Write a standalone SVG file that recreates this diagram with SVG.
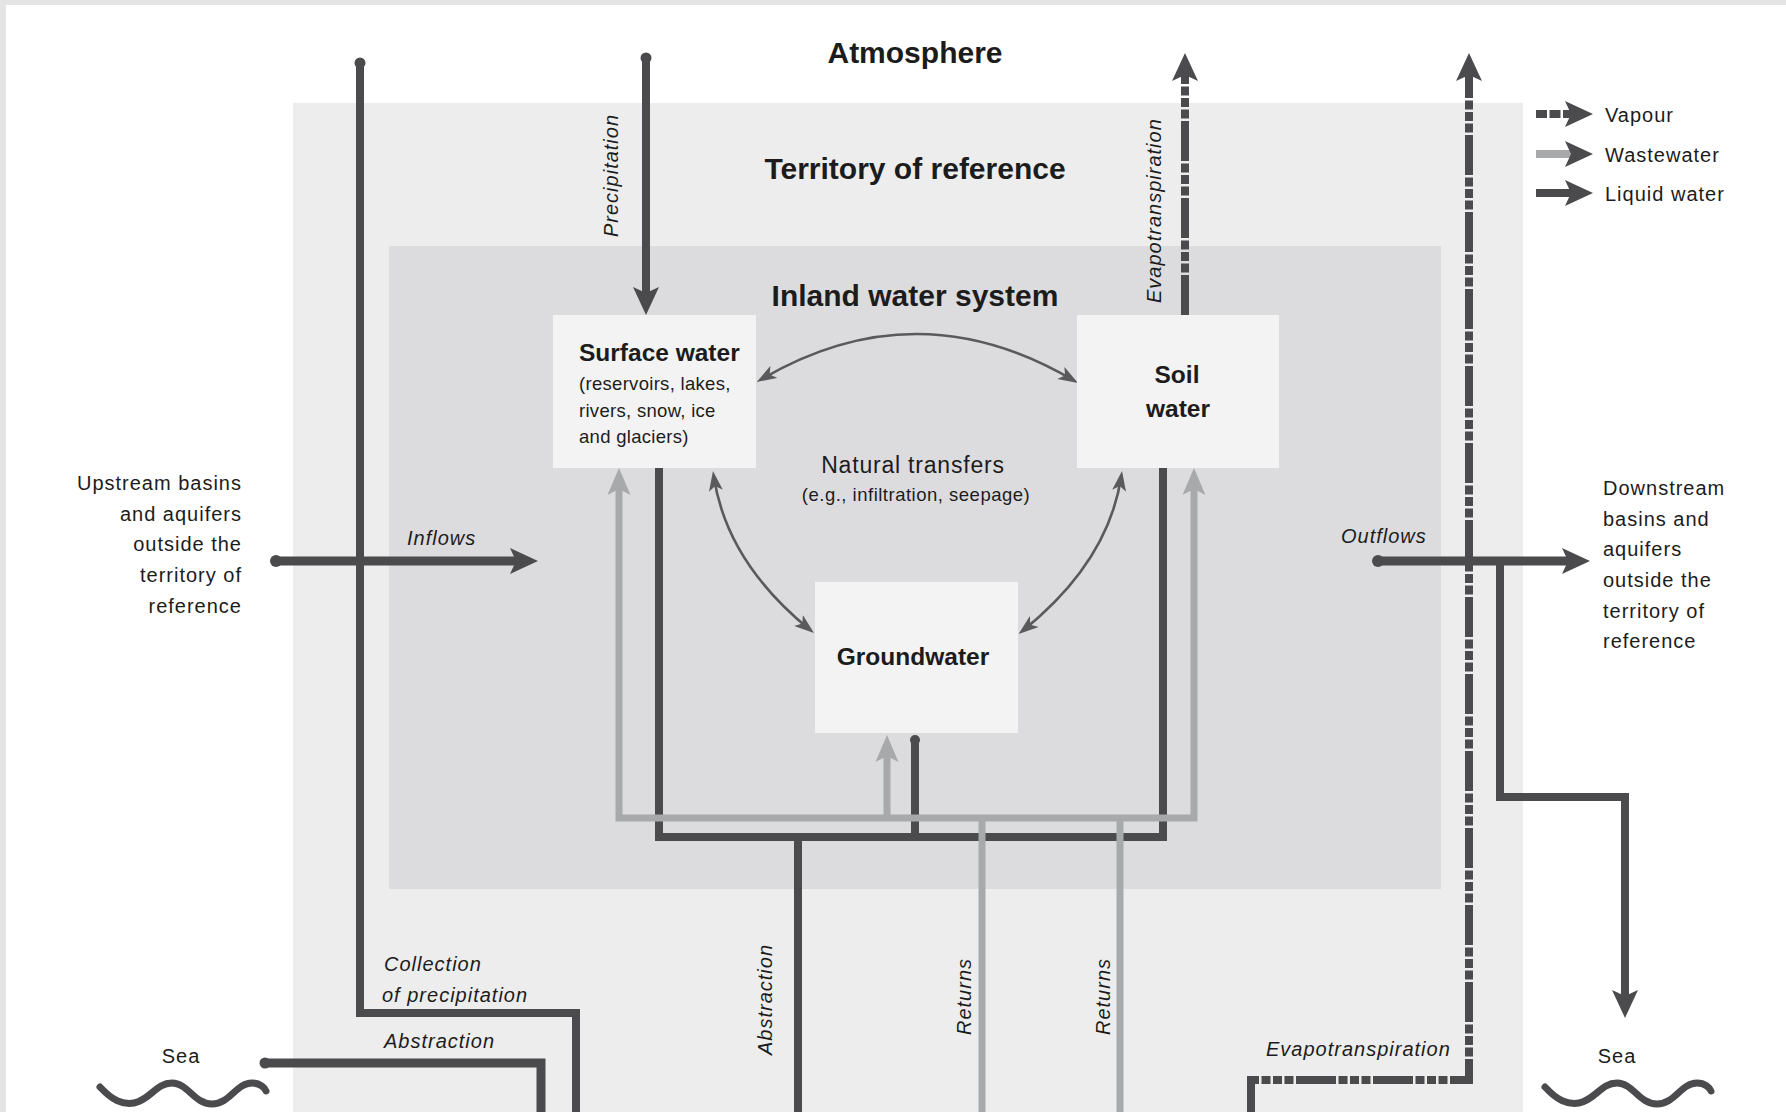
<svg xmlns="http://www.w3.org/2000/svg" width="1786" height="1112" viewBox="0 0 1786 1112">
<defs>
<style>
.t{font-family:"Liberation Sans",Arial,sans-serif;fill:#1c1c1c}
.h{font-size:30px;font-weight:bold}
.b{font-size:24.5px;font-weight:bold}
.s{font-size:20px;letter-spacing:1px}
.i{font-size:20px;letter-spacing:1px;font-style:italic}
.sub{font-size:18.5px;letter-spacing:0.3px}
.dk{fill:none;stroke:#4b4b4d;stroke-width:8}
.gy{fill:none;stroke:#a8a9ab;stroke-width:7}
.vp{fill:none;stroke:#4b4b4d;stroke-width:8;stroke-dasharray:40 2.5 9 2.5 9 2.5 9 2.5}
.arc{fill:none;stroke:#5a5a5c;stroke-width:2.6}
.dot{fill:#4b4b4d}
.wave{fill:none;stroke:#4b4b4d;stroke-width:7;stroke-linecap:round}
.box{fill:#f3f3f3}
</style>
<marker id="ad" markerUnits="userSpaceOnUse" viewBox="0 0 28 26" markerWidth="28" markerHeight="26" refX="10" refY="13" orient="auto">
<path d="M0,0 L28,13 L0,26 L6,13 z" fill="#4b4b4d"/>
</marker>
<marker id="ag" markerUnits="userSpaceOnUse" viewBox="0 0 27 23" markerWidth="27" markerHeight="23" refX="9" refY="11.5" orient="auto-start-reverse">
<path d="M0,0 L27,11.5 L0,23 L6,11.5 z" fill="#a8a9ab"/>
</marker>
<marker id="aa" markerUnits="userSpaceOnUse" viewBox="0 0 20 14" markerWidth="20" markerHeight="14" refX="15" refY="7" orient="auto-start-reverse">
<path d="M0,0 L20,7 L0,14 L5,7 z" fill="#5a5a5c"/>
</marker>
</defs>

<rect x="0" y="0" width="1786" height="1112" fill="#e4e4e4"/>
<rect x="6" y="5" width="1780" height="1107" fill="#ffffff"/>

<g id="territory">
<rect x="293" y="103" width="1230" height="1009" fill="#ededed"/>
</g>
<g id="inland-water-system">
<rect x="389" y="246" width="1052" height="643" fill="#dcdcde"/>
</g>

<g id="titles" class="t h" text-anchor="middle">
<text x="915" y="63">Atmosphere</text>
<text x="915" y="179">Territory of reference</text>
<text x="915" y="306">Inland water system</text>
</g>

<g id="connectors">
<!-- natural transfer arcs -->
<path class="arc" d="M761,379.5 Q917,288 1073.7,380.5" marker-start="url(#aa)" marker-end="url(#aa)"/>
<path class="arc" d="M713.7,476 Q726.5,562 810.1,629.9" marker-start="url(#aa)" marker-end="url(#aa)"/>
<path class="arc" d="M1121.3,476 Q1108.5,562 1022.5,630.9" marker-start="url(#aa)" marker-end="url(#aa)"/>

<!-- vapour -->
<path class="vp" d="M1185,315 V71" marker-end="url(#ad)"/>
<path class="vp" d="M1251,1112 V1080 H1469 V71" marker-end="url(#ad)"/>

<!-- liquid water -->
<path class="dk" d="M360,63 V1013 H576 V1112"/>
<circle class="dot" cx="360" cy="63" r="5.5"/>
<path class="dk" d="M646,58 V297" marker-end="url(#ad)"/>
<circle class="dot" cx="646" cy="58" r="5.5"/>
<path class="dk" style="stroke-width:9" d="M265,1063 H541 V1112"/>
<circle class="dot" cx="265" cy="1063" r="5.5"/>
<path class="dk" style="stroke-width:9" d="M276,561 H520" marker-end="url(#ad)"/>
<circle class="dot" cx="276" cy="561" r="6"/>
<path class="dk" style="stroke-width:9" d="M1378,561 H1572" marker-end="url(#ad)"/>
<circle class="dot" cx="1378" cy="561" r="6"/>
<path class="dk" d="M1500,561 V797 H1625 V1000" marker-end="url(#ad)"/>
<path class="dk" d="M659,468 V837 H1163 V468"/>
<path class="dk" d="M915,740 V837"/>
<circle class="dot" cx="915" cy="740" r="5"/>
<path class="dk" d="M798,837 V1112"/>

<!-- wastewater -->
<path class="gy" d="M619,486 V818 H1194 V486" marker-start="url(#ag)" marker-end="url(#ag)"/>
<path class="gy" d="M887,818 V753" marker-end="url(#ag)"/>
<path class="gy" d="M982,818 V1112"/>
<path class="gy" d="M1120,818 V1112"/>

<!-- sea waves -->
<path class="wave" d="M100,1087 C112,1100 122,1105 134,1103 C150,1100 156,1083 172,1083 C188,1083 194,1104 212,1104 C230,1104 236,1083 252,1083 C260,1083 265,1088 266,1091"/>
<path class="wave" transform="translate(1445,0)" d="M100,1087 C112,1100 122,1105 134,1103 C150,1100 156,1083 172,1083 C188,1083 194,1104 212,1104 C230,1104 236,1083 252,1083 C260,1083 265,1088 266,1091"/>
</g>

<g id="surface-water">
<rect class="box" x="553" y="315" width="203" height="153"/>
<text class="t b" x="579" y="361">Surface water</text>
<text class="t sub" x="579" y="390">(reservoirs, lakes,</text>
<text class="t sub" x="579" y="417">rivers, snow, ice</text>
<text class="t sub" x="579" y="443">and glaciers)</text>
</g>

<g id="soil-water">
<rect class="box" x="1077" y="315" width="202" height="153"/>
<text class="t b" x="1177" y="383" text-anchor="middle">Soil</text>
<text class="t b" x="1178" y="417" text-anchor="middle">water</text>
</g>

<g id="groundwater">
<rect class="box" x="815" y="582" width="203" height="151"/>
<text class="t b" x="913" y="665" text-anchor="middle">Groundwater</text>
</g>

<g id="natural-transfers-label" class="t" text-anchor="middle">
<text x="913" y="473" style="font-size:23px;letter-spacing:0.8px">Natural transfers</text>
<text x="916" y="501" style="font-size:18.5px;letter-spacing:0.5px">(e.g., infiltration, seepage)</text>
</g>

<g id="flow-labels" class="t i">
<text transform="translate(618,237) rotate(-90)">Precipitation</text>
<text transform="translate(1161,303) rotate(-90)">Evapotranspiration</text>
<text transform="translate(772,1055) rotate(-90)">Abstraction</text>
<text transform="translate(971,1035) rotate(-90)">Returns</text>
<text transform="translate(1110,1035) rotate(-90)">Returns</text>
<text x="407" y="545">Inflows</text>
<text x="1341" y="543">Outflows</text>
<text x="384" y="971">Collection</text>
<text x="382" y="1002">of precipitation</text>
<text x="384" y="1048">Abstraction</text>
<text x="1266" y="1056">Evapotranspiration</text>
</g>

<g id="upstream" class="t s" text-anchor="end">
<text x="242" y="490">Upstream basins</text>
<text x="242" y="521">and aquifers</text>
<text x="242" y="551">outside the</text>
<text x="242" y="582">territory of</text>
<text x="242" y="613">reference</text>
</g>

<g id="downstream" class="t s">
<text x="1603" y="495">Downstream</text>
<text x="1603" y="526">basins and</text>
<text x="1603" y="556">aquifers</text>
<text x="1603" y="587">outside the</text>
<text x="1603" y="618">territory of</text>
<text x="1603" y="648">reference</text>
</g>

<g id="sea-left">
<text class="t s" x="181" y="1063" text-anchor="middle">Sea</text>
</g>
<g id="sea-right">
<text class="t s" x="1617" y="1063" text-anchor="middle">Sea</text>
</g>

<g id="legend">
<path class="dk" style="stroke-dasharray:11 2.5" d="M1536,114 H1575" marker-end="url(#ad)"/>
<path class="gy" style="stroke-width:8" d="M1536,154 H1575" marker-end="url(#ad)" />
<path class="dk" d="M1536,193 H1575" marker-end="url(#ad)"/>
<text class="t s" x="1605" y="122">Vapour</text>
<text class="t s" x="1605" y="162">Wastewater</text>
<text class="t s" x="1605" y="201">Liquid water</text>
</g>
</svg>
